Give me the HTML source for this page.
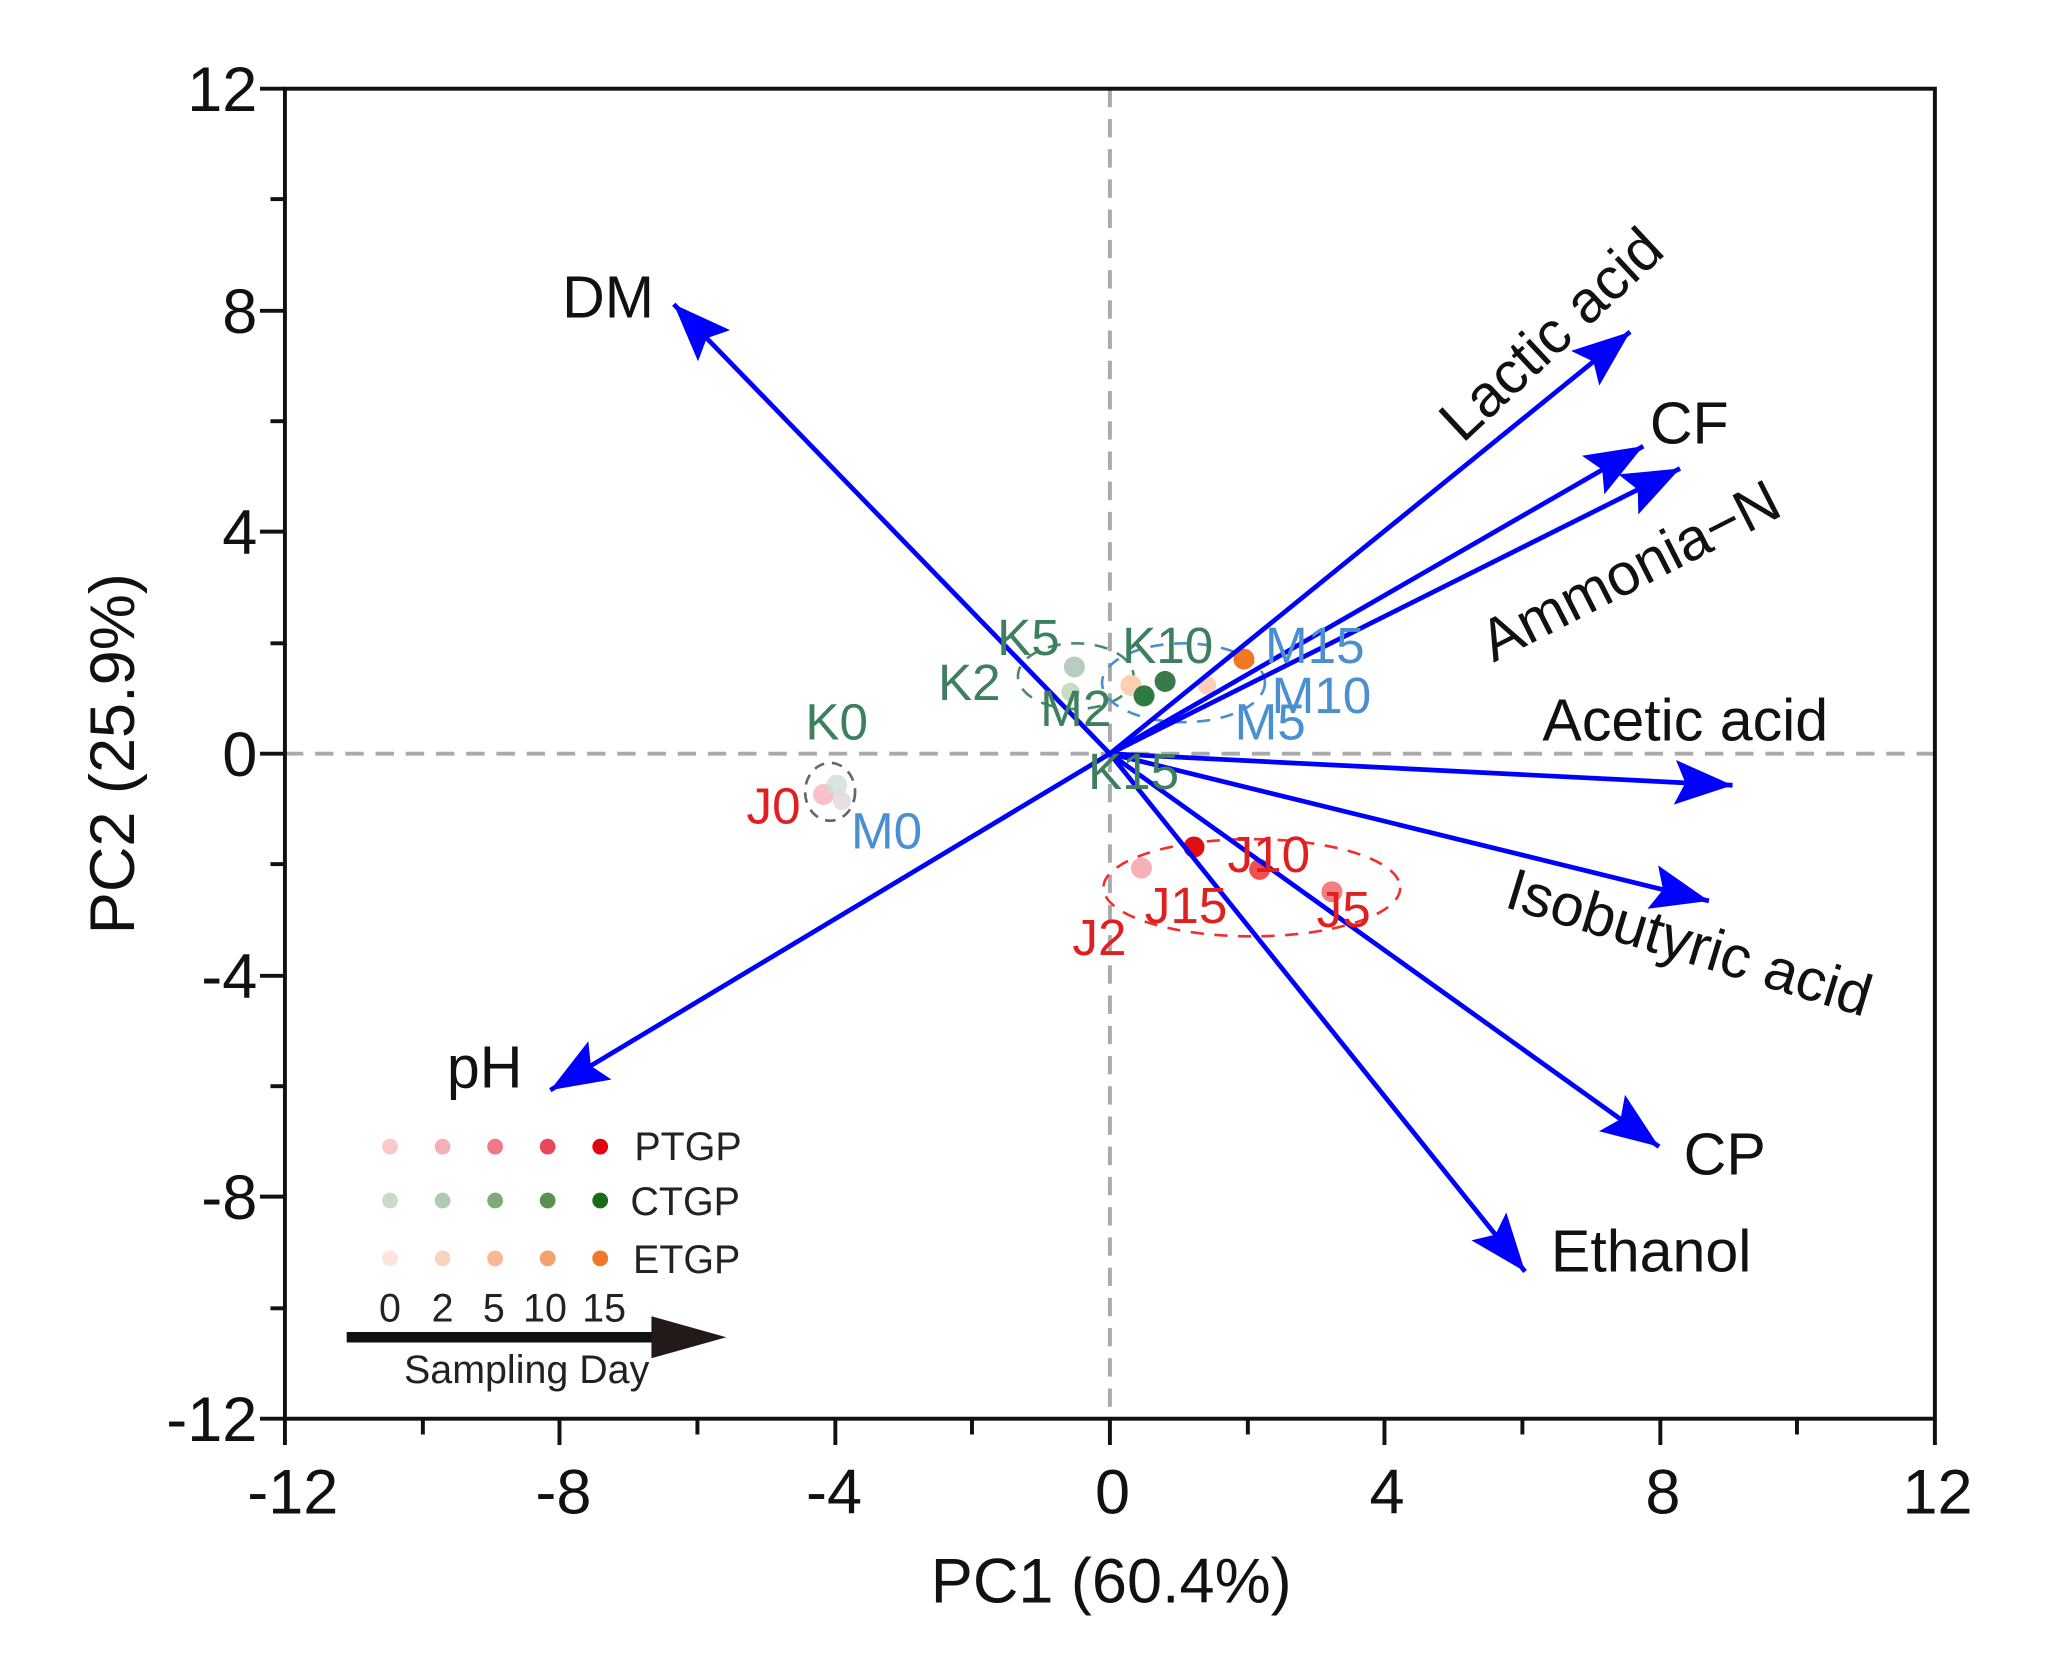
<!DOCTYPE html>
<html><head><meta charset="utf-8"><style>
html,body{margin:0;padding:0;background:#fff;}
svg{display:block;}
text{font-family:"Liberation Sans",Arial,sans-serif;}
</style></head><body>
<svg width="2061" height="1665" viewBox="-0.9 0.5 1568.9 1266.9" preserveAspectRatio="none" xmlns="http://www.w3.org/2000/svg">
<defs>
<marker id="ah" markerUnits="userSpaceOnUse" markerWidth="46" markerHeight="36" refX="44" refY="17" orient="auto">
<path d="M0,0 L44,17 L0,34 L8,17 Z" fill="#0000ff"/>
</marker>
</defs>
<rect x="-1" y="0" width="1570" height="1268" fill="#fff"/>
<line x1="216" y1="574" x2="1472" y2="574" stroke="#aaa" stroke-width="3" stroke-dasharray="14,9"/>
<line x1="844" y1="68" x2="844" y2="1080" stroke="#aaa" stroke-width="3" stroke-dasharray="14,9"/>
<ellipse cx="952" cy="676" rx="113" ry="37" fill="none" stroke="#f03030" stroke-width="2" stroke-dasharray="10,8"/>
<ellipse cx="818" cy="515" rx="44" ry="25" fill="none" stroke="#4a8a6a" stroke-width="2" stroke-dasharray="10,8"/>
<ellipse cx="900" cy="520" rx="62" ry="30" fill="none" stroke="#4a90d0" stroke-width="2" stroke-dasharray="10,8"/>
<ellipse cx="631" cy="603" rx="19" ry="22" fill="none" stroke="#666" stroke-width="2" stroke-dasharray="8,6"/>
<circle cx="626" cy="605" r="8" fill="#f8c0c8"/>
<circle cx="636" cy="598" r="8" fill="#d0dcd8" opacity="0.8"/>
<circle cx="640" cy="610" r="7" fill="#e0d8e0" opacity="0.8"/>
<circle cx="817" cy="508" r="8" fill="#b8ccc0"/>
<circle cx="814" cy="527" r="7" fill="#c8dcc0"/>
<circle cx="860" cy="522" r="8" fill="#fcd0b0"/>
<circle cx="870" cy="530" r="8" fill="#2e7a40"/>
<circle cx="886" cy="519" r="8" fill="#3a7a4a"/>
<circle cx="918" cy="522" r="7" fill="#fcd0b8"/>
<circle cx="946" cy="502" r="8" fill="#f07820"/>
<circle cx="868" cy="661" r="8" fill="#f5b0b8"/>
<circle cx="908" cy="645" r="8" fill="#e01010"/>
<circle cx="958" cy="662" r="8" fill="#f05050"/>
<circle cx="1013" cy="679" r="8" fill="#f08080"/>
<g stroke="#0000ff" stroke-width="3.6" marker-end="url(#ah)">
<line x1="844" y1="574" x2="512" y2="232"/>
<line x1="844" y1="574" x2="1240" y2="253"/>
<line x1="844" y1="574" x2="1250" y2="340"/>
<line x1="844" y1="574" x2="1278" y2="357"/>
<line x1="844" y1="574" x2="1318" y2="598"/>
<line x1="844" y1="574" x2="1300" y2="686"/>
<line x1="844" y1="574" x2="1262" y2="873"/>
<line x1="844" y1="574" x2="1160" y2="968"/>
<line x1="844" y1="574" x2="418" y2="830"/>
</g>
<g font-size="39">
<text x="636" y="563" fill="#3d7f5e" text-anchor="middle">K0</text>
<text x="588" y="627" fill="#e02020" text-anchor="middle">J0</text>
<text x="674" y="646" fill="#4a90d0" text-anchor="middle">M0</text>
<text x="782" y="499" fill="#3d7f5e" text-anchor="middle">K5</text>
<text x="737" y="533" fill="#3d7f5e" text-anchor="middle">K2</text>
<text x="818" y="553" fill="#3d7f5e" text-anchor="middle">M2</text>
<text x="888" y="505" fill="#3d7f5e" text-anchor="middle">K10</text>
<text x="1000" y="505" fill="#4a90d0" text-anchor="middle">M15</text>
<text x="1005" y="543" fill="#4a90d0" text-anchor="middle">M10</text>
<text x="966" y="563" fill="#4a90d0" text-anchor="middle">M5</text>
<text x="862" y="601" fill="#3d7f5e" text-anchor="middle">K15</text>
<text x="965" y="664" fill="#e02020" text-anchor="middle">J10</text>
<text x="902" y="703" fill="#e02020" text-anchor="middle">J15</text>
<text x="836" y="727" fill="#e02020" text-anchor="middle">J2</text>
<text x="1022" y="706" fill="#e02020" text-anchor="middle">J5</text>
</g>
<g font-size="45" fill="#111">
<text x="462" y="242" text-anchor="middle">DM</text>
<text x="1180" y="270" text-anchor="middle" transform="rotate(-43 1180 255)">Lactic acid</text>
<text x="1285" y="338" text-anchor="middle">CF</text>
<text x="1240" y="450" text-anchor="middle" transform="rotate(-27 1240 435)">Ammonia−N</text>
<text x="1282" y="564" text-anchor="middle">Acetic acid</text>
<text x="1285" y="733" text-anchor="middle" transform="rotate(17 1285 718)">Isobutyric acid</text>
<text x="1312" y="894" text-anchor="middle">CP</text>
<text x="1256" y="968" text-anchor="middle">Ethanol</text>
<text x="368" y="828" text-anchor="middle">pH</text>
</g>
<g>
<circle cx="296" cy="873" r="6" fill="#f8c8cc"/><circle cx="336" cy="873" r="6" fill="#f4b0b8"/><circle cx="376" cy="873" r="6" fill="#f07888"/><circle cx="416" cy="873" r="6" fill="#e84858"/><circle cx="456" cy="873" r="6" fill="#e00010"/>
<circle cx="296" cy="914" r="6" fill="#c8dcc8"/><circle cx="336" cy="914" r="6" fill="#b0ccb0"/><circle cx="376" cy="914" r="6" fill="#80aa78"/><circle cx="416" cy="914" r="6" fill="#5a9050"/><circle cx="456" cy="914" r="6" fill="#1a6a1a"/>
<circle cx="296" cy="958" r="6" fill="#fbe4dc"/><circle cx="336" cy="958" r="6" fill="#f8d4c0"/><circle cx="376" cy="958" r="6" fill="#f8b894"/><circle cx="416" cy="958" r="6" fill="#f4a070"/><circle cx="456" cy="958" r="6" fill="#f07828"/>
<g font-size="30" fill="#222">
<text x="482" y="883">PTGP</text><text x="479" y="925">CTGP</text><text x="481" y="969">ETGP</text>
<text x="296" y="1006" text-anchor="middle">0</text><text x="336" y="1006" text-anchor="middle">2</text><text x="375" y="1006" text-anchor="middle">5</text><text x="414" y="1006" text-anchor="middle">10</text><text x="459" y="1006" text-anchor="middle">15</text>
<text x="400" y="1053" text-anchor="middle">Sampling Day</text>
</g>
<line x1="263" y1="1018" x2="505" y2="1018" stroke="#111" stroke-width="8"/>
<path d="M495,1002 L552,1018 L495,1034 Z" fill="#221a18"/>
</g>
<rect x="216" y="68" width="1256" height="1012" fill="none" stroke="#111" stroke-width="3"/>
<g stroke="#111" stroke-width="3">
<line x1="197" y1="68" x2="216" y2="68"/><line x1="205" y1="152" x2="216" y2="152"/>
<line x1="197" y1="237" x2="216" y2="237"/><line x1="205" y1="321" x2="216" y2="321"/>
<line x1="197" y1="405" x2="216" y2="405"/><line x1="205" y1="490" x2="216" y2="490"/>
<line x1="197" y1="574" x2="216" y2="574"/><line x1="205" y1="658" x2="216" y2="658"/>
<line x1="197" y1="743" x2="216" y2="743"/><line x1="205" y1="827" x2="216" y2="827"/>
<line x1="197" y1="911" x2="216" y2="911"/><line x1="205" y1="996" x2="216" y2="996"/>
<line x1="197" y1="1080" x2="216" y2="1080"/>
<line x1="216" y1="1080" x2="216" y2="1100"/><line x1="321" y1="1080" x2="321" y2="1092"/>
<line x1="425" y1="1080" x2="425" y2="1100"/><line x1="530" y1="1080" x2="530" y2="1092"/>
<line x1="635" y1="1080" x2="635" y2="1100"/><line x1="739" y1="1080" x2="739" y2="1092"/>
<line x1="844" y1="1080" x2="844" y2="1100"/><line x1="949" y1="1080" x2="949" y2="1092"/>
<line x1="1053" y1="1080" x2="1053" y2="1100"/><line x1="1158" y1="1080" x2="1158" y2="1092"/>
<line x1="1263" y1="1080" x2="1263" y2="1100"/><line x1="1367" y1="1080" x2="1367" y2="1092"/>
<line x1="1472" y1="1080" x2="1472" y2="1100"/>
</g>
<g font-size="48" fill="#111" text-anchor="end">
<text x="195" y="85">12</text><text x="195" y="254">8</text><text x="195" y="422">4</text>
<text x="195" y="591">0</text><text x="195" y="760">-4</text><text x="195" y="928">-8</text><text x="195" y="1097">-12</text>
</g>
<g font-size="48" fill="#111" text-anchor="middle">
<text x="222" y="1152">-12</text><text x="428" y="1152">-8</text><text x="634" y="1152">-4</text>
<text x="846" y="1152">0</text><text x="1055" y="1152">4</text><text x="1265" y="1152">8</text><text x="1474" y="1152">12</text>
</g>
<text x="845" y="1220" font-size="48" fill="#111" text-anchor="middle">PC1 (60.4%)</text>
<text x="0" y="0" font-size="48" fill="#111" text-anchor="middle" transform="translate(101 574) rotate(-90)">PC2 (25.9%)</text>
</svg>
</body></html>
